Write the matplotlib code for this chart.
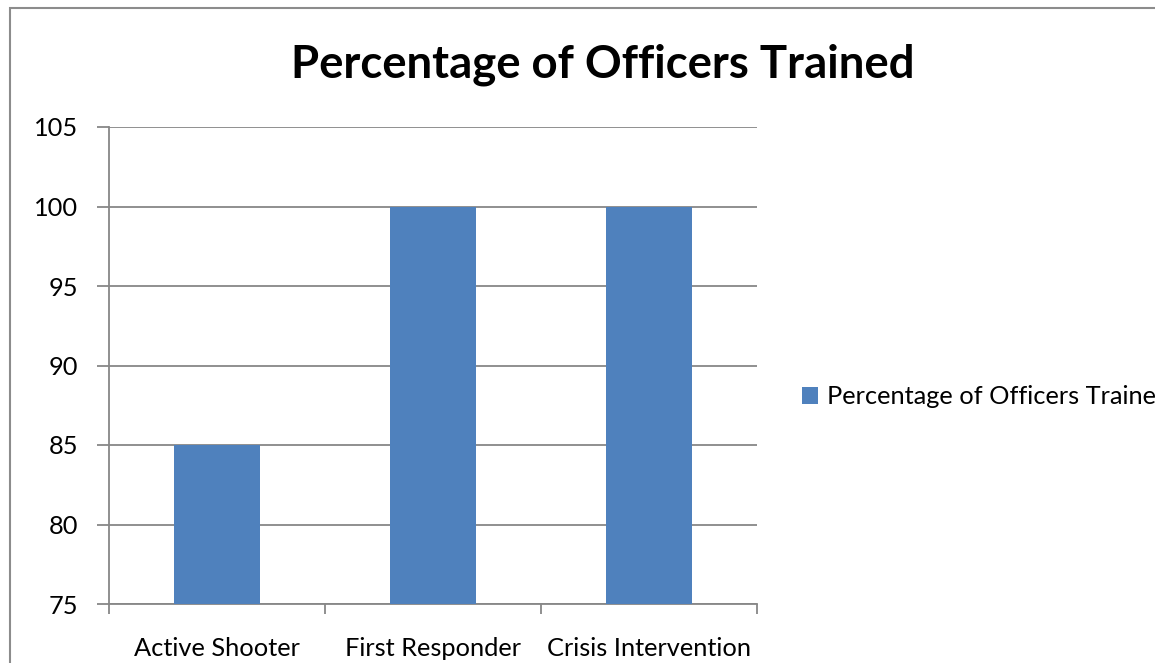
import matplotlib.pyplot as plt
from matplotlib.patches import Rectangle

categories = ['Active Shooter', 'First Responder', 'Crisis Intervention']
percent_trained = [85, 100, 100]
y_ticks = [75, 80, 85, 90, 95, 100, 105]
series_name = 'Percentage of Officers Trained'

plt.rcParams['font.family'] = ['Lato', 'DejaVu Sans']

fig = plt.figure(figsize=(11.55, 6.63), dpi=100)
ax = fig.add_axes([109 / 1155, 1 - 604 / 663, (757 - 109) / 1155, (604 - 127) / 663])

grid_grey = '#878787'
ax.bar(range(len(categories)), percent_trained, width=0.395, color='#4F81BD',
       label=series_name, zorder=3)

ax.set_xlim(-0.5, len(categories) - 0.5)
ax.set_ylim(y_ticks[0], y_ticks[-1])
ax.set_yticks(y_ticks)
ax.yaxis.grid(True, color=grid_grey, linewidth=1.3, zorder=0)

ax.set_xticks([-0.5, 0.5, 1.5, 2.5])
ax.set_xticklabels([])
ax.set_xticks(range(len(categories)), minor=True)
ax.set_xticklabels(categories, minor=True, fontsize=18.3)
ax.tick_params(axis='x', which='minor', length=0, pad=23.5)
ax.tick_params(axis='x', which='major', length=7, color=grid_grey, width=1.3)
ax.tick_params(axis='y', length=9, color=grid_grey, width=1.3, labelsize=18.3, pad=13)

for side in ['top', 'right']:
    ax.spines[side].set_visible(False)
for side in ['left', 'bottom']:
    ax.spines[side].set_color(grid_grey)
    ax.spines[side].set_linewidth(1.3)

fig.text(603 / 1155, 1 - 65 / 663, series_name, ha='center', va='center',
         fontsize=32.8, fontweight='bold')

# legend sits partly outside the canvas, as in the original export
ax.legend(loc='center left', bbox_to_anchor=(779 / 1155, 1 - 397 / 663),
          bbox_transform=fig.transFigure, frameon=False, fontsize=18.3,
          handlelength=0.65, handleheight=0.65, handletextpad=0.35)

fig.patches.append(Rectangle((10 / 1155, -0.1), 1.2, 1 - 8 / 663 + 0.1,
                             transform=fig.transFigure, fill=False,
                             edgecolor='#8c8c8c', linewidth=1.5))

fig.savefig('out.png', dpi=100)
